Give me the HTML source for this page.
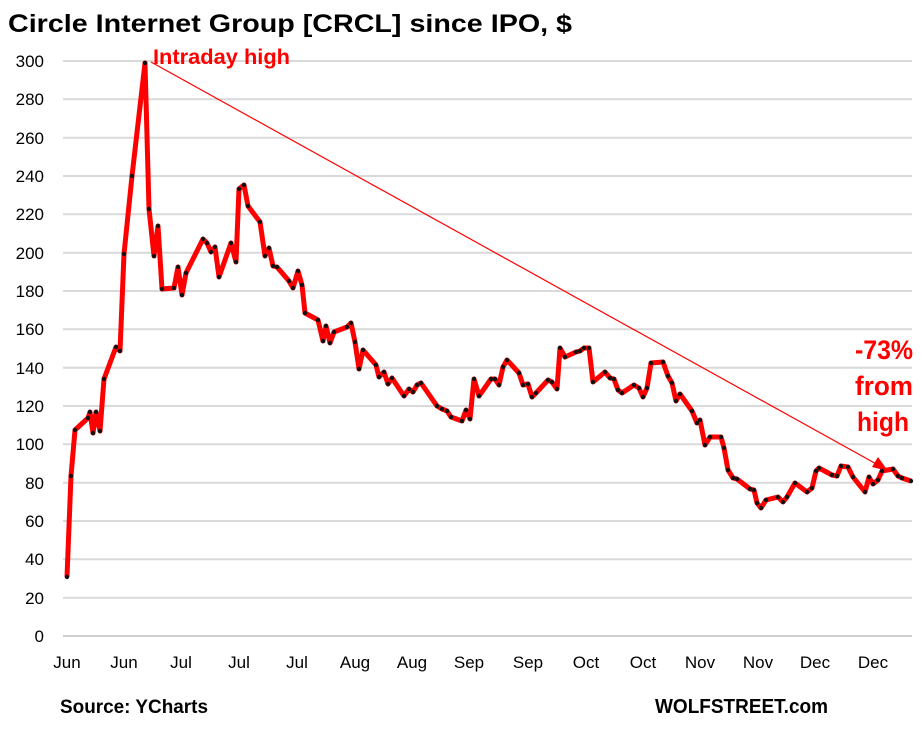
<!DOCTYPE html>
<html><head><meta charset="utf-8"><style>
body{margin:0;background:#fff}
svg text{font-family:"Liberation Sans",Arial,sans-serif}
</style></head><body>
<svg width="922" height="727" viewBox="0 0 922 727" xmlns="http://www.w3.org/2000/svg">
<defs>
<marker id="d" markerUnits="userSpaceOnUse" markerWidth="6" markerHeight="6" refX="3" refY="3"><circle cx="3" cy="3" r="2.2" fill="#111"/></marker>
</defs>
<rect width="922" height="727" fill="#fff"/>
<text x="8" y="32" font-size="25" font-weight="bold" fill="#000" textLength="564" lengthAdjust="spacingAndGlyphs">Circle Internet Group [CRCL] since IPO, $</text>
<g stroke="#d9d9d9" stroke-width="2">
<line x1="63" x2="912" y1="61" y2="61"/><line x1="63" x2="912" y1="99.3" y2="99.3"/><line x1="63" x2="912" y1="137.7" y2="137.7"/><line x1="63" x2="912" y1="176" y2="176"/><line x1="63" x2="912" y1="214.3" y2="214.3"/><line x1="63" x2="912" y1="252.7" y2="252.7"/><line x1="63" x2="912" y1="291" y2="291"/><line x1="63" x2="912" y1="329.3" y2="329.3"/><line x1="63" x2="912" y1="367.7" y2="367.7"/><line x1="63" x2="912" y1="406" y2="406"/><line x1="63" x2="912" y1="444.3" y2="444.3"/><line x1="63" x2="912" y1="482.7" y2="482.7"/><line x1="63" x2="912" y1="521" y2="521"/><line x1="63" x2="912" y1="559.3" y2="559.3"/><line x1="63" x2="912" y1="597.7" y2="597.7"/>
</g>
<line x1="63" x2="912" y1="636" y2="636" stroke="#bfbfbf" stroke-width="1.5"/>
<g font-size="17" fill="#000" text-anchor="end">
<text x="44" y="67">300</text><text x="44" y="105">280</text><text x="44" y="144">260</text><text x="44" y="182">240</text><text x="44" y="220">220</text><text x="44" y="259">200</text><text x="44" y="297">180</text><text x="44" y="335">160</text><text x="44" y="374">140</text><text x="44" y="412">120</text><text x="44" y="450">100</text><text x="44" y="489">80</text><text x="44" y="527">60</text><text x="44" y="565">40</text><text x="44" y="604">20</text><text x="44" y="642">0</text>
</g>
<g font-size="17" fill="#000" text-anchor="middle">
<text x="67" y="668">Jun</text><text x="124" y="668">Jun</text><text x="181" y="668">Jul</text><text x="239" y="668">Jul</text><text x="297" y="668">Jul</text><text x="355" y="668">Aug</text><text x="412" y="668">Aug</text><text x="469" y="668">Sep</text><text x="528" y="668">Sep</text><text x="586" y="668">Oct</text><text x="643" y="668">Oct</text><text x="700" y="668">Nov</text><text x="758" y="668">Nov</text><text x="815" y="668">Dec</text><text x="873" y="668">Dec</text>
</g>
<line x1="151" y1="62" x2="880" y2="466" stroke="#ff0000" stroke-width="1.2"/>
<polygon points="888,471 872,467 878,457" fill="#ff0000"/>
<polyline fill="none" stroke="#ff0000" stroke-width="5" stroke-linejoin="round" marker-start="url(#d)" marker-mid="url(#d)" marker-end="url(#d)" points="67,577 71,476 75,430 88,418 90,412 93,433 96,412 100,431 104,379 116,347 120,351 124,254 132,176 145,63 149,209 154,256 158,226 162,289 174,288 178,267 182,295 186,273 203,239 207,243 211,252 215,247 219,277 231,243 236,262 239,189 244,185 248,206 260,222 265,256 269,248 273,266 277,267 289,281 293,288 298,271 302,285 305,313 318,320 323,341 326,326 330,343 334,332 347,327 351,323 355,342 359,369 363,350 376,365 379,377 384,372 388,384 392,378 404,396 409,389 413,392 417,385 421,383 437,406 442,409 447,411 451,417 462,421 466,410 470,419 474,379 479,396 491,379 495,379 499,385 503,367 507,360 519,373 523,385 528,384 532,397 536,393 548,380 552,382 557,389 560,348 565,357 576,352 580,351 584,348 589,348 593,382 605,372 610,378 614,379 618,390 622,393 634,385 639,388 643,397 647,388 651,363 663,362 668,376 672,383 676,401 680,394 692,411 697,423 700,420 705,445 710,437 721,437 724,448 728,470 733,478 737,479 750,489 754,490 757,503 761,508 766,500 778,497 783,502 787,497 795,483 807,492 812,488 816,471 819,468 832,475 837,476 841,466 848,467 853,477 865,492 869,477 873,484 878,480 882,471 893,469 898,476 902,478 911,481"/>
<text x="153" y="64" font-size="21" font-weight="bold" fill="#ff0000" textLength="137" lengthAdjust="spacingAndGlyphs">Intraday high</text>
<g font-size="27" font-weight="bold" fill="#ff0000">
<text x="855" y="359" textLength="58" lengthAdjust="spacingAndGlyphs">-73%</text><text x="855" y="395" textLength="58" lengthAdjust="spacingAndGlyphs">from</text><text x="857" y="431" textLength="52" lengthAdjust="spacingAndGlyphs">high</text>
</g>
<text x="60" y="713" font-size="19" font-weight="bold" fill="#000" textLength="148" lengthAdjust="spacingAndGlyphs">Source: YCharts</text>
<text x="655" y="713" font-size="20" font-weight="bold" fill="#000" textLength="173" lengthAdjust="spacingAndGlyphs">WOLFSTREET.com</text>
</svg>
</body></html>
